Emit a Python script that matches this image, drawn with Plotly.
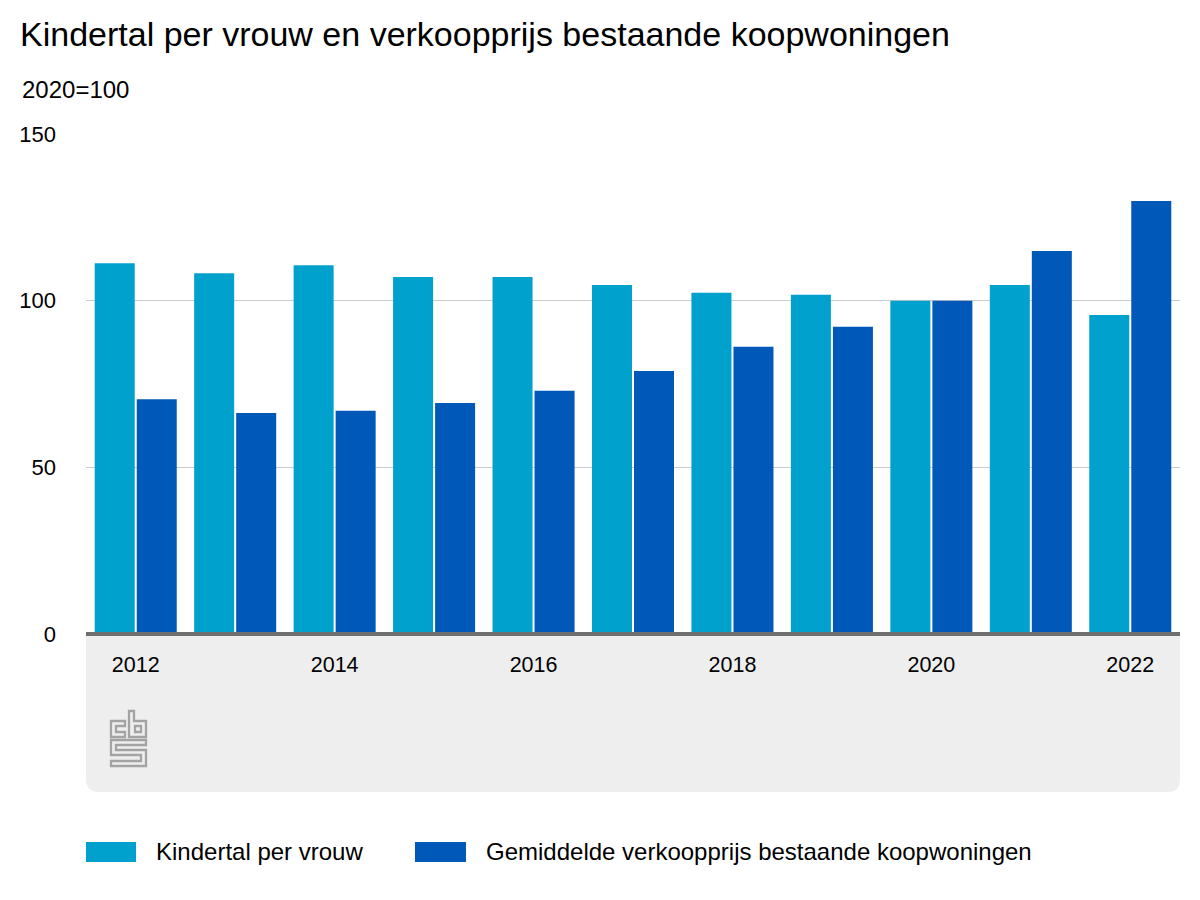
import plotly.graph_objects as go

years = ["2012","2013","2014","2015","2016","2017","2018","2019","2020","2021","2022"]
kindertal = [111.2,108.2,110.6,107.1,107.1,104.7,102.4,101.8,100,104.7,95.7]
prijs = [70.4,66.3,67,69.3,73,78.9,86.2,92.2,100,114.9,129.9]
tick_years = ["2012","2014","2016","2018","2020","2022"]
y_ticks = [0,50,100,150]
series_names = ["Kindertal per vrouw","Gemiddelde verkoopprijs bestaande koopwoningen"]
series_colors = ["#00A1CD","#0058B8"]

W, H = 1200, 900
L, R, T, B = 86, 1180, 134, 634
px = lambda v: (v-L)/(R-L)
py = lambda v: (B-v)/(B-T)

def path(points, close=True):
    d = "M " + " L ".join(f"{px(x):.5f},{py(y):.5f}" for x,y in points)
    return d + (" Z" if close else "")

shapes = []
# grey band below the axis, rounded bottom corners
r = 13
band = (f"M {px(L)},{py(B)} L {px(R)},{py(B)} L {px(R)},{py(792-r)} "
        f"Q {px(R)},{py(792)} {px(R-r)},{py(792)} L {px(L+r)},{py(792)} "
        f"Q {px(L)},{py(792)} {px(L)},{py(792-r)} Z")
shapes.append(dict(type="path",xref="paper",yref="paper",path=band,fillcolor="#EEEEEE",line=dict(width=0),layer="below"))
# axis line
shapes.append(dict(type="line",xref="paper",yref="paper",x0=0,x1=1,y0=0,y1=0,line=dict(color="#6E6E6E",width=4),layer="above"))
# cbs logo
logo = [
    [(125,721),(111,721),(111,737),(125,737),(125,732),(116,732),(116,726),(125,726)],
    [(129,737),(129,711),(134,711),(134,721),(146,721),(146,737)],
    [(135,726),(141,726),(141,732),(135,732)],
    [(111,740),(146,740),(146,745),(116,745),(116,750),(146,750),(146,766),(111,766),(111,761),(141,761),(141,755),(111,755)],
]
for p in logo:
    shapes.append(dict(type="path",xref="paper",yref="paper",path=path(p),line=dict(color="#A3A3A3",width=2.3),fillcolor="rgba(0,0,0,0)",layer="above"))
# legend swatches
for x0,x1,c in [(86,136,series_colors[0]),(415,466,series_colors[1])]:
    shapes.append(dict(type="rect",xref="paper",yref="paper",x0=px(x0),x1=px(x1),y0=py(842),y1=py(862),fillcolor=c,line=dict(width=0)))

ann = lambda text,x,y,size: dict(text=text,xref="paper",yref="paper",x=px(x),y=py(y),xanchor="left",yanchor="middle",showarrow=False,font=dict(size=size))
annotations = [
    ann("2020=100",20,90,24),
    ann(series_names[0],154,851,24),
    ann(series_names[1],484,851,24),
]

fig = go.Figure()
fig.add_bar(x=years,y=kindertal,name=series_names[0],marker=dict(color=series_colors[0],line=dict(width=0)))
fig.add_bar(x=years,y=prijs,name=series_names[1],marker=dict(color=series_colors[1],line=dict(width=0)))
fig.update_layout(
    width=W,height=H,margin=dict(l=L,r=W-R,t=T,b=H-B,pad=0),autosize=False,showlegend=False,
    paper_bgcolor="white",plot_bgcolor="rgba(0,0,0,0)",
    font=dict(family="Liberation Sans, Arial, sans-serif",size=22,color="#000"),
    barmode="group",bargap=0.155,bargroupgap=0.048,
    title=dict(text="Kindertal per vrouw en verkoopprijs bestaande koopwoningen",x=20/W,xanchor="left",xref="container",y=1-34/H,yanchor="middle",yref="container",font=dict(size=34)),
    xaxis=dict(type="category",categoryorder="array",categoryarray=years,tickmode="array",tickvals=tick_years,ticktext=tick_years,ticks="",showgrid=False,zeroline=False,showline=False,tickfont=dict(size=21.5),ticklabelstandoff=15),
    yaxis=dict(range=[0,150],tickvals=y_ticks,gridcolor="#CCCCCC",gridwidth=1,zeroline=False,showline=False,ticks="",tickfont=dict(size=22),ticklabelstandoff=29),
    shapes=shapes,annotations=annotations,
)
fig.write_html("out.html",config=dict(displayModeBar=False),post_script="document.body.style.margin='0';document.documentElement.style.overflow='hidden';")
